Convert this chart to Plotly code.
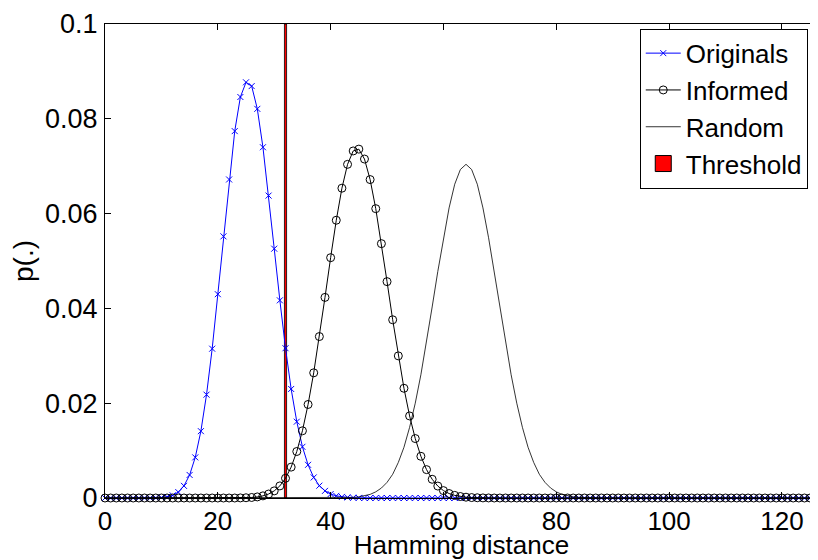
import plotly.graph_objects as go

hamming = list(range(129))

originals = [
    0, 0, 0, 0, 0, 0, 0, 0, 0, 0.00003,
    0.00009, 0.00023, 0.00056, 0.00124, 0.00256, 0.00486, 0.00857, 0.0141, 0.0218, 0.0315,
    0.0430, 0.0552, 0.0672, 0.0774, 0.0846, 0.0877, 0.0869, 0.0821, 0.0740, 0.0638,
    0.0526, 0.0417, 0.0316, 0.0230, 0.0161, 0.0108, 0.0070, 0.00434, 0.00260, 0.00150,
    0.00083, 0.00045, 0.00023, 0.00012, 0.00006, 0.00003, 0, 0, 0, 0,
    0, 0, 0, 0, 0, 0, 0, 0, 0, 0,
    0, 0, 0, 0, 0, 0, 0, 0, 0, 0,
    0, 0, 0, 0, 0, 0, 0, 0, 0, 0,
    0, 0, 0, 0, 0, 0, 0, 0, 0, 0,
    0, 0, 0, 0, 0, 0, 0, 0, 0, 0,
    0, 0, 0, 0, 0, 0, 0, 0, 0, 0,
    0, 0, 0, 0, 0, 0, 0, 0, 0, 0,
    0, 0, 0, 0, 0, 0, 0, 0, 0,
]

informed = [
    0, 0, 0, 0, 0, 0, 0, 0, 0, 0,
    0, 0, 0, 0, 0, 0, 0, 0, 0, 0,
    0, 0, 0, 0, 0.00002, 0.00005, 0.00011, 0.00023, 0.00045, 0.00084,
    0.00150, 0.00255, 0.00416, 0.00652, 0.00981, 0.01418, 0.01973, 0.02641, 0.03406, 0.04232,
    0.05070, 0.05860, 0.06536, 0.07039, 0.07322, 0.07360, 0.07151, 0.06718, 0.06104, 0.05366,
    0.04565, 0.03760, 0.02998, 0.02315, 0.01731, 0.01254, 0.00880, 0.00599, 0.00395, 0.00252,
    0.00156, 0.00094, 0.00055, 0.00031, 0.00017, 0.00009, 0.00005, 0.00002, 0.00001, 0,
    0, 0, 0, 0, 0, 0, 0, 0, 0, 0,
    0, 0, 0, 0, 0, 0, 0, 0, 0, 0,
    0, 0, 0, 0, 0, 0, 0, 0, 0, 0,
    0, 0, 0, 0, 0, 0, 0, 0, 0, 0,
    0, 0, 0, 0, 0, 0, 0, 0, 0, 0,
    0, 0, 0, 0, 0, 0, 0, 0, 0,
]

random_ = [
    0, 0, 0, 0, 0, 0, 0, 0, 0, 0,
    0, 0, 0, 0, 0, 0, 0, 0, 0, 0,
    0, 0, 0, 0, 0, 0, 0, 0, 0, 0,
    0, 0, 0, 0, 0, 0, 0, 0, 0, 0,
    0, 0.00001, 0.00003, 0.00007, 0.00013, 0.00024, 0.00043, 0.00076, 0.0013, 0.0021,
    0.0033, 0.0050, 0.0075, 0.0107, 0.0149, 0.0200, 0.0260, 0.0329, 0.0403, 0.0478,
    0.0549, 0.0612, 0.0662, 0.0693, 0.0704, 0.0693, 0.0662, 0.0612, 0.0549, 0.0478,
    0.0403, 0.0329, 0.0260, 0.0200, 0.0149, 0.0107, 0.0075, 0.0050, 0.0033, 0.0021,
    0.0013, 0.00076, 0.00043, 0.00024, 0.00013, 0.00007, 0.00003, 0.00001, 0, 0,
    0, 0, 0, 0, 0, 0, 0, 0, 0, 0,
    0, 0, 0, 0, 0, 0, 0, 0, 0, 0,
    0, 0, 0, 0, 0, 0, 0, 0, 0, 0,
    0, 0, 0, 0, 0, 0, 0, 0, 0,
]

threshold_x = [32]
threshold_y = [0.1]

x_ticks = [0, 20, 40, 60, 80, 100, 120]
y_ticks = [0, 0.02, 0.04, 0.06, 0.08, 0.1]
y_ticklabels = ["0", "0.02", "0.04", "0.06", "0.08", "0.1"]

FONT = "Liberation Sans, Arial, sans-serif"

fig = go.Figure()
fig.add_trace(go.Scatter(
    x=hamming, y=originals, name="Originals", mode="lines+markers",
    line=dict(color="rgb(0,0,255)", width=1),
    marker=dict(symbol="x-thin-open", size=6, line=dict(color="rgb(0,0,255)", width=1)),
    cliponaxis=False,
))
fig.add_trace(go.Scatter(
    x=hamming, y=informed, name="Informed", mode="lines+markers",
    line=dict(color="black", width=1),
    marker=dict(symbol="circle-open", size=8, color="black", line=dict(color="black", width=1)),
    cliponaxis=False,
))
fig.add_trace(go.Scatter(
    x=hamming, y=random_, name="Random", mode="lines",
    line=dict(color="black", width=0.8),
    cliponaxis=False,
))
fig.add_trace(go.Bar(
    x=threshold_x, y=threshold_y, name="Threshold", width=0.38,
    marker=dict(color="red", line=dict(color="black", width=0.8)),
    legendgroup="thr", showlegend=False,
))
# legend entry for the threshold (filled square like the original legend)
fig.add_trace(go.Scatter(
    x=[None], y=[None], name="Threshold", mode="markers",
    marker=dict(symbol="square", size=22, color="red", line=dict(color="black", width=1)),
    legendgroup="thr",
))

# page body has an 8px default margin, so the figure is 8px smaller than the window
fig.update_layout(
    width=810, height=552,
    margin=dict(l=97, r=0, t=16, b=62),
    paper_bgcolor="white", plot_bgcolor="white",
    font=dict(family=FONT, size=27, color="black"),
    showlegend=True,
    legend=dict(
        x=0.75, y=0.99, xanchor="left", yanchor="top",
        bgcolor="white", bordercolor="black", borderwidth=1,
        font=dict(family=FONT, size=26, color="black"),
        tracegroupgap=0, itemwidth=35,
    ),
    xaxis=dict(
        range=[0, 126.4], tickvals=x_ticks, ticks="inside", ticklen=6,
        tickcolor="black", showline=True, linecolor="black", linewidth=1,
        mirror="ticks", showgrid=False, zeroline=False, automargin=False,
        tickfont=dict(size=26),
        title=dict(text="Hamming distance", font=dict(size=26), standoff=3),
    ),
    yaxis=dict(
        range=[0, 0.1], tickvals=y_ticks, ticktext=y_ticklabels, ticks="inside",
        ticklen=6, tickcolor="black", showline=True, linecolor="black", linewidth=1,
        mirror=False, showgrid=False, zeroline=False, automargin=False,
        tickfont=dict(size=27), ticklabelstandoff=1,
        title=dict(text="p(.)", font=dict(size=28), standoff=12),
    ),
)

fig.write_html("out.html")
